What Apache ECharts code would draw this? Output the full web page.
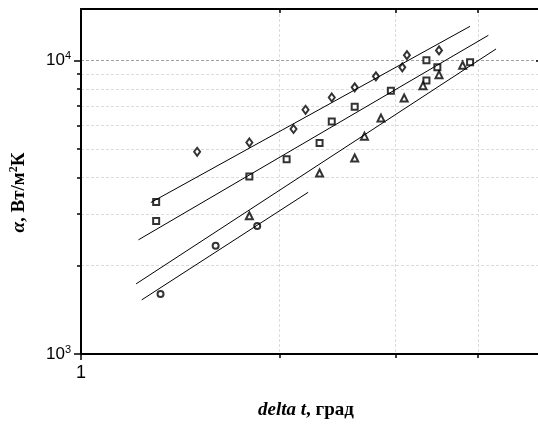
<!DOCTYPE html>
<html><head><meta charset="utf-8">
<script src="https://cdn.jsdelivr.net/npm/echarts@6/dist/echarts.min.js"></script>
<style>html,body{margin:0;padding:0;background:#fff}#c{width:538px;height:428px}</style>
</head><body><div id="c"></div>
<script>
// ---- data ----
const diamondX = [1.50, 1.80, 2.10, 2.19, 2.40, 2.60, 2.80, 3.07, 3.12, 3.49];
const diamondY = [4890, 5260, 5850, 6800, 7490, 8110, 8840, 9490, 10440, 10840];
const squareX = [1.30, 1.30, 1.80, 2.05, 2.30, 2.40, 2.60, 2.95, 3.34, 3.34, 3.47, 3.89];
const squareY = [3300, 2840, 4030, 4610, 5240, 6200, 6970, 7900, 10040, 8550, 9490, 9870];
const triangleX = [1.80, 2.30, 2.60, 2.69, 2.85, 3.09, 3.30, 3.49, 3.79];
const triangleY = [2960, 4140, 4660, 5530, 6370, 7460, 8220, 8960, 9650];
const circleX = [1.32, 1.60, 1.85];
const circleY = [1600, 2340, 2730];
// fitted lines: endpoints
const fit1X = [1.276, 3.889], fit1Y = [3284, 13094];
const fit2X = [1.222, 4.146], fit2Y = [2450, 12200];
const fit3X = [1.212, 4.259], fit3Y = [1734, 10962];
const fit4X = [1.236, 2.210], fit4Y = [1529, 3558];
// ticks
const xMajorTicks = [1];
const xMinorTicks = [2, 3, 4];
const yMajorTicks = [1000, 10000];
const yMinorTicks = [2000, 3000, 4000, 5000, 6000, 7000, 8000, 9000];
const X_MIN = 1, X_MAX = 5, Y_MIN = 1000, Y_MAX = 15000;
const xTitle = ['delta t', ', град'];
const yTitle = ['α', ', Вт/м', '2', 'К'];

function pairs(xs, ys) { return xs.map((x, i) => [x, ys[i]]); }

const chart = echarts.init(document.getElementById('c'), null, { renderer: 'canvas' });
const black = '#000';
const baseX = { type: 'log', logBase: 10, min: X_MIN, max: X_MAX };
const baseY = { type: 'log', logBase: 10, min: Y_MIN, max: Y_MAX };
const serif = 'Liberation Serif';
const sans = 'Liberation Sans';

const option = {
  animation: false,
  grid: { left: 81, right: -4, top: 9, bottom: 74, containLabel: false, outerBoundsMode: 'none' },
  xAxis: [
    Object.assign({}, baseX, {
      position: 'bottom',
      axisLine: { show: true, onZero: false, lineStyle: { color: black, width: 2 } },
      axisTick: { show: true, customValues: xMajorTicks, length: 6, lineStyle: { color: black, width: 1.5 } },
      axisLabel: { show: true, customValues: xMajorTicks, formatter: v => String(v), fontSize: 18, color: black, margin: 10, fontFamily: sans },
      splitLine: { show: false },
      name: '{i|' + xTitle[0] + '}{b|' + xTitle[1] + '}',
      nameLocation: 'middle', nameGap: 47,
      nameTextStyle: {
        padding: [0, 11, 0, 0],
        rich: {
          i: { fontFamily: serif, fontStyle: 'italic', fontWeight: 'bold', fontSize: 19, color: black },
          b: { fontFamily: serif, fontWeight: 'bold', fontSize: 19, color: black }
        }
      }
    }),
    Object.assign({}, baseX, {
      position: 'bottom',
      axisLine: { show: false, onZero: false },
      axisTick: { show: true, customValues: xMinorTicks, length: 4, lineStyle: { color: black, width: 1.5 } },
      axisLabel: { show: false },
      splitLine: { show: true, lineStyle: { color: '#dcdcdc', width: 1, type: [3, 2] } }
    }),
    Object.assign({}, baseX, {
      position: 'top',
      axisLine: { show: true, onZero: false, lineStyle: { color: black, width: 2 } },
      axisTick: { show: true, inside: true, customValues: xMinorTicks, length: 4, lineStyle: { color: black, width: 1.5 } },
      axisLabel: { show: false },
      splitLine: { show: false }
    })
  ],
  yAxis: [
    Object.assign({}, baseY, {
      position: 'left',
      axisLine: { show: true, onZero: false, lineStyle: { color: black, width: 2 } },
      axisTick: { show: true, customValues: yMajorTicks, length: 7, lineStyle: { color: black, width: 1.5 } },
      axisLabel: {
        show: true, customValues: yMajorTicks, margin: 10,
        formatter: v => '{a|10}{s|' + Math.round(Math.log10(v)) + '}',
        rich: {
          a: { fontFamily: sans, fontSize: 17, lineHeight: 20, color: black },
          s: { fontFamily: sans, fontSize: 11, lineHeight: 12, verticalAlign: 'top', color: black }
        }
      },
      splitLine: { show: true, showMinLine: false, lineStyle: { color: '#a0a0a0', width: 1, type: [3, 2] } },
      name: '{a|' + yTitle[0] + '}{b|' + yTitle[1] + '}{s|' + yTitle[2] + '}{b|' + yTitle[3] + '}',
      nameLocation: 'middle', nameGap: 51,
      nameTextStyle: {
        padding: [0, 22, 0, 0],
        rich: {
          a: { fontFamily: serif, fontStyle: 'italic', fontWeight: 'bold', fontSize: 19, lineHeight: 22, color: black },
          b: { fontFamily: serif, fontWeight: 'bold', fontSize: 19, lineHeight: 22, color: black },
          s: { fontFamily: serif, fontWeight: 'bold', fontSize: 12, lineHeight: 12, verticalAlign: 'top', color: black }
        }
      }
    }),
    Object.assign({}, baseY, {
      position: 'left',
      axisLine: { show: false, onZero: false },
      axisTick: { show: true, customValues: yMinorTicks, length: 4, lineStyle: { color: black, width: 1.5 } },
      axisLabel: { show: false },
      splitLine: { show: true, lineStyle: { color: '#dcdcdc', width: 1, type: [3, 2] } }
    }),
    Object.assign({}, baseY, {
      position: 'right',
      axisLine: { show: true, onZero: false, lineStyle: { color: black, width: 2 } },
      axisTick: { show: true, inside: true, customValues: [10000], length: 6, lineStyle: { color: black, width: 1.5 } },
      axisLabel: { show: false },
      splitLine: { show: false }
    })
  ],
  series: [
    { type: 'line', data: pairs(fit1X, fit1Y), symbol: 'none', lineStyle: { color: black, width: 1 }, silent: true },
    { type: 'line', data: pairs(fit2X, fit2Y), symbol: 'none', lineStyle: { color: black, width: 1 }, silent: true },
    { type: 'line', data: pairs(fit3X, fit3Y), symbol: 'none', lineStyle: { color: black, width: 1 }, silent: true },
    { type: 'line', data: pairs(fit4X, fit4Y), symbol: 'none', lineStyle: { color: black, width: 1 }, silent: true },
    { type: 'scatter', data: pairs(diamondX, diamondY), symbol: 'diamond', symbolSize: [6, 8],
      itemStyle: { color: '#fff', borderColor: black, borderWidth: 2 } },
    { type: 'scatter', data: pairs(squareX, squareY), symbol: 'rect', symbolSize: 6,
      itemStyle: { color: '#fff', borderColor: black, borderWidth: 2 } },
    { type: 'scatter', data: pairs(triangleX, triangleY), symbol: 'triangle', symbolSize: 7,
      itemStyle: { color: '#fff', borderColor: black, borderWidth: 2 } },
    { type: 'scatter', data: pairs(circleX, circleY), symbol: 'circle', symbolSize: 6,
      itemStyle: { color: '#fff', borderColor: black, borderWidth: 2 } }
  ]
};
chart.setOption(option);
</script>
</body></html>
